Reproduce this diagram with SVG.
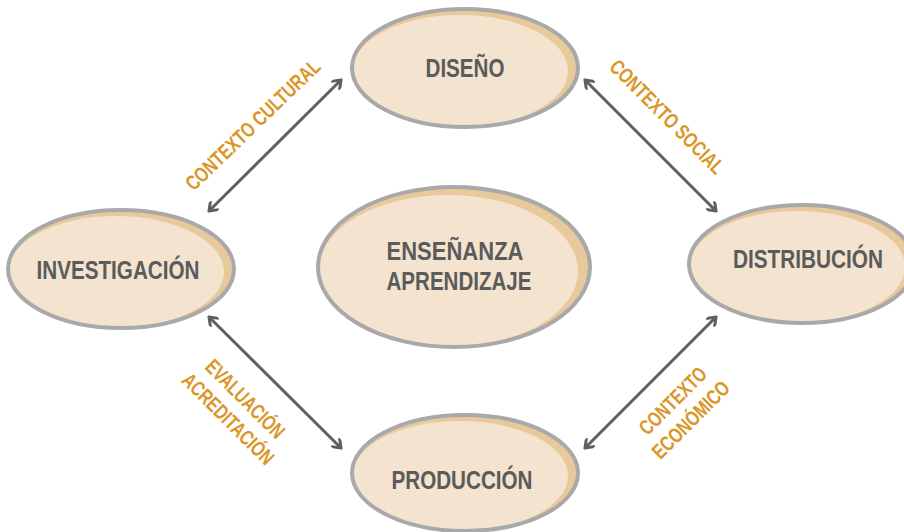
<svg xmlns="http://www.w3.org/2000/svg" width="904" height="532" viewBox="0 0 904 532">
<style>
.back{fill:#e8c99c}
.face{fill:#f3e3cf}
.rim{fill:none;stroke:#a9a9a9;stroke-width:4}
.lbl{font-family:"Liberation Sans",Arial,sans-serif;font-weight:bold;font-size:25px;fill:#5b5b5b;text-anchor:middle}
.ctx{font-family:"Liberation Sans",Arial,sans-serif;font-weight:bold;font-size:21px;fill:#da9628;text-anchor:middle}
.arr{stroke:#5f5f5f;stroke-width:3;fill:none;marker-start:url(#ah);marker-end:url(#ah)}
</style>
<defs>
<marker id="ah" viewBox="0 0 12 12" refX="10" refY="6" markerWidth="12" markerHeight="12" markerUnits="userSpaceOnUse" orient="auto-start-reverse">
<path d="M2,0 L10,6 L2,12" fill="none" stroke="#5f5f5f" stroke-width="3"/>
</marker>
</defs>
<rect width="904" height="532" fill="#ffffff"/>
<g id="connectors">
<line class="arr" x1="209" y1="211" x2="341" y2="80"/>
<line class="arr" x1="585" y1="80" x2="716" y2="211"/>
<line class="arr" x1="209" y1="317" x2="341" y2="448"/>
<line class="arr" x1="716" y1="317" x2="585" y2="448"/>
</g>
<g id="labels">
<text class="ctx" transform="translate(253,125) rotate(-44)" y="7" textLength="178" lengthAdjust="spacingAndGlyphs">CONTEXTO CULTURAL</text>
<text class="ctx" transform="translate(667,117) rotate(45)" y="7" textLength="152" lengthAdjust="spacingAndGlyphs">CONTEXTO SOCIAL</text>
<text class="ctx" transform="translate(245,399) rotate(45)" y="7" textLength="102" lengthAdjust="spacingAndGlyphs">EVALUACIÓN</text>
<text class="ctx" transform="translate(228,419) rotate(45)" y="7" textLength="120" lengthAdjust="spacingAndGlyphs">ACREDITACIÓN</text>
<text class="ctx" transform="translate(673,401) rotate(-45)" y="7" textLength="86" lengthAdjust="spacingAndGlyphs">CONTEXTO</text>
<text class="ctx" transform="translate(691,420) rotate(-45)" y="7" textLength="100" lengthAdjust="spacingAndGlyphs">ECONÓMICO</text>
</g>
<g id="diseno">
<ellipse class="back" cx="465" cy="68" rx="113" ry="59"/>
<ellipse class="face" cx="460" cy="71" rx="108" ry="56"/>
<ellipse class="rim" cx="465" cy="68" rx="113" ry="59"/>
<text class="lbl" x="465" y="77" textLength="79" lengthAdjust="spacingAndGlyphs">DISEÑO</text>
</g>
<g id="investigacion">
<ellipse class="back" cx="121" cy="269" rx="113" ry="59"/>
<ellipse class="face" cx="116" cy="272" rx="108" ry="56"/>
<ellipse class="rim" cx="121" cy="269" rx="113" ry="59"/>
<text class="lbl" x="118" y="279" textLength="163" lengthAdjust="spacingAndGlyphs">INVESTIGACIÓN</text>
</g>
<g id="ensenanza">
<ellipse class="back" cx="454" cy="267" rx="136" ry="80"/>
<ellipse class="face" cx="448" cy="271" rx="130" ry="76"/>
<ellipse class="rim" cx="454" cy="267" rx="136" ry="80"/>
<text class="lbl" x="455" y="260" textLength="137" lengthAdjust="spacingAndGlyphs">ENSEÑANZA</text>
<text class="lbl" x="459" y="290" textLength="145" lengthAdjust="spacingAndGlyphs">APRENDIZAJE</text>
</g>
<g id="distribucion">
<ellipse class="back" cx="802" cy="264" rx="113" ry="59"/>
<ellipse class="face" cx="797" cy="267" rx="108" ry="56"/>
<ellipse class="rim" cx="802" cy="264" rx="113" ry="59"/>
<text class="lbl" x="808" y="268" textLength="150" lengthAdjust="spacingAndGlyphs">DISTRIBUCIÓN</text>
</g>
<g id="produccion">
<ellipse class="back" cx="465" cy="473" rx="113" ry="58"/>
<ellipse class="face" cx="460" cy="476" rx="108" ry="55"/>
<ellipse class="rim" cx="465" cy="473" rx="113" ry="58"/>
<text class="lbl" x="462" y="489" textLength="141" lengthAdjust="spacingAndGlyphs">PRODUCCIÓN</text>
</g>
</svg>
